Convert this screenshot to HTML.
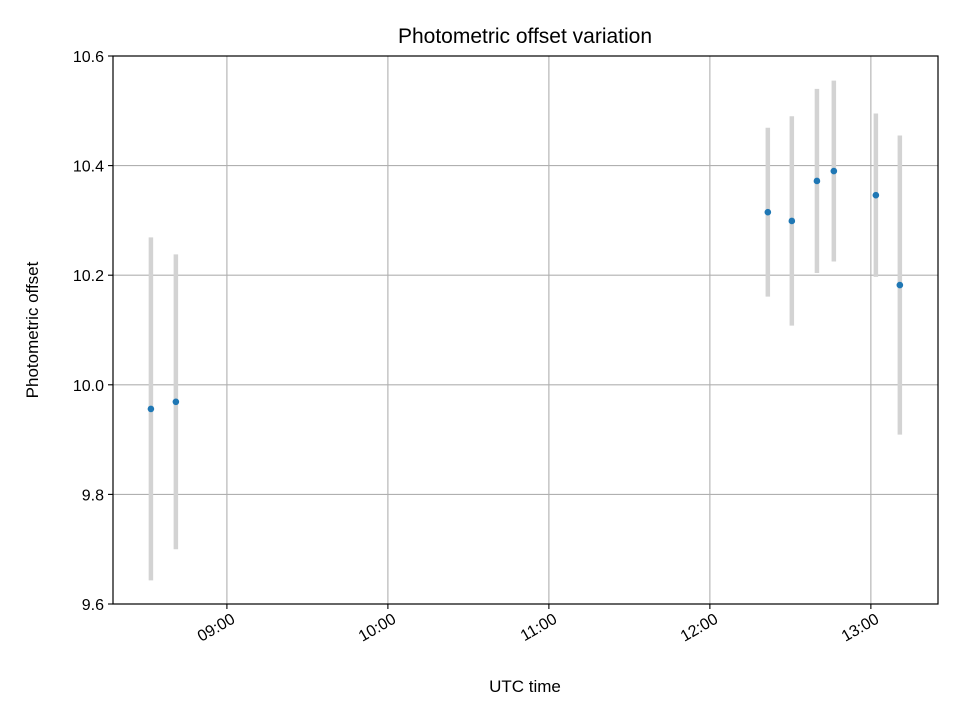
<!DOCTYPE html>
<html><head><meta charset="utf-8">
<style>
html,body{margin:0;padding:0;background:#fff;}
svg{display:block;font-family:"Liberation Sans","DejaVu Sans",sans-serif;}
</style></head>
<body>
<svg id="chart" width="960" height="720" viewBox="0 0 960 720" xmlns="http://www.w3.org/2000/svg">
<rect width="960" height="720" fill="#fff"/>
<g id="grid"></g>
<g id="errs"></g>
<g id="pts"></g>
<rect x="113" y="56" width="825" height="548" fill="none" stroke="#000" stroke-width="1.2"/>
<g id="axes"></g>
<text x="525" y="43" font-size="21" text-anchor="middle">Photometric offset variation</text>
<text x="525" y="692" font-size="17" text-anchor="middle">UTC time</text>
<text x="0" y="0" font-size="17" text-anchor="middle" transform="translate(38,330) rotate(-90)">Photometric offset</text>
</svg>
<script>
const timesHours = [8.528, 8.683, 12.360, 12.509, 12.665, 12.770, 13.031, 13.180];
const offsets = [9.956, 9.969, 10.315, 10.299, 10.372, 10.390, 10.346, 10.182];
const errors = [0.313, 0.269, 0.154, 0.191, 0.168, 0.165, 0.149, 0.273];
const xTicks = [9, 10, 11, 12, 13];
const xTickLabels = ["09:00", "10:00", "11:00", "12:00", "13:00"];
const yTicks = [9.6, 9.8, 10.0, 10.2, 10.4, 10.6];
const yTickLabels = ["9.6", "9.8", "10.0", "10.2", "10.4", "10.6"];

const NS = "http://www.w3.org/2000/svg";
const L = 113, R = 938, T = 56, B = 604;
const xMin = 8.2925, xMax = 13.417;
const yMin = 9.6, yMax = 10.6;
function sx(h){ return L + (h - xMin) / (xMax - xMin) * (R - L); }
function sy(v){ return B - (v - yMin) / (yMax - yMin) * (B - T); }
function mk(tag, attrs, parent){
  const e = document.createElementNS(NS, tag);
  for (const k in attrs) e.setAttribute(k, attrs[k]);
  parent.appendChild(e);
  return e;
}
const grid = document.getElementById("grid");
const axes = document.getElementById("axes");
const errs = document.getElementById("errs");
const pts = document.getElementById("pts");

xTicks.forEach((h, i) => {
  const x = sx(h);
  const g = mk("line", {x1:x, x2:x, y1:T, y2:B, stroke:"#b0b0b0", "stroke-width":1.1}, grid);
  
  
  const t = mk("line", {x1:x, x2:x, y1:B, y2:B+5, stroke:"#000", "stroke-width":1.1}, axes);
  
  
  const lb = mk("text", {x:0, y:0, "font-size":16, "text-anchor":"end", "dominant-baseline":"hanging", transform:"translate(" + (x + 4) + "," + (B + 9) + ") rotate(-30)"}, axes);
  lb.textContent = xTickLabels[i];
  
  
});
yTicks.forEach((v, i) => {
  const y = sy(v);
  const g = mk("line", {x1:L, x2:R, y1:y, y2:y, stroke:"#b0b0b0", "stroke-width":1.1}, grid);
  
  
  const t = mk("line", {x1:L-5, x2:L, y1:y, y2:y, stroke:"#000", "stroke-width":1.1}, axes);
  
  
  const lb = mk("text", {x:L-9, y:y+6, "font-size":16, "text-anchor":"end"}, axes);
  lb.textContent = yTickLabels[i];
  
  
});
timesHours.forEach((h, i) => {
  const x = sx(h);
  const e = mk("line", {x1:x, x2:x, y1:sy(offsets[i] + errors[i]), y2:sy(offsets[i] - errors[i]), stroke:"#d3d3d3", "stroke-width":4.5}, errs);
  
  
  const c = mk("circle", {cx:x, cy:sy(offsets[i]), r:3.3, fill:"#1f77b4"}, pts);
  
  
});
</script>
</body></html>
